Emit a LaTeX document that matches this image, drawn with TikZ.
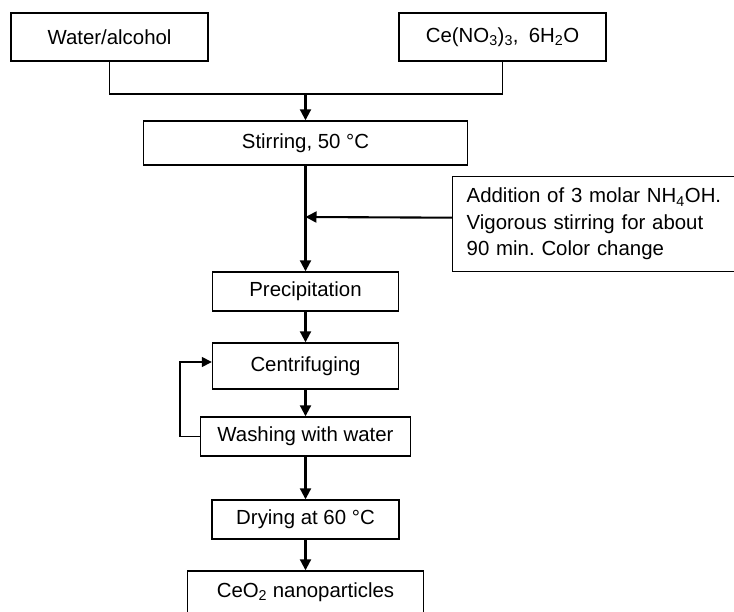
\documentclass[tikz,border=0pt]{standalone}
\usepackage{fontspec}
\setmainfont{Liberation Sans}
\usetikzlibrary{arrows.meta}

\tikzset{
  procbox/.style={draw=black, line width=1.4pt, inner sep=0pt, align=center,
    font=\fontsize{20.4}{26.5}\selectfont},
  feed/.style={draw=black, line width=1.4pt},
  flow/.style={draw=black, line width=2.1pt,
    -{Triangle[length=11pt,width=11pt]}},
  backflow/.style={draw=black, line width=1.5pt,
    -{Triangle[length=10pt,width=10pt]}},
}

\begin{document}
\frenchspacing
\begin{tikzpicture}[x=1pt,y=-1pt]
  \clip (0,0) rectangle (734,612);

  % starting materials
  \node[procbox, minimum width=197, minimum height=48] (water) at (109.5,37) {Water/alcohol};
  \node[procbox, minimum width=207, minimum height=48] (ce) at (502.5,37)
    {Ce(NO\textsubscript{3})\textsubscript{3},\enspace 6H\textsubscript{2}O};

  % main process column
  \node[procbox, minimum width=324, minimum height=44] (stir) at (305.5,143) {Stirring, 50 °C};
  \node[procbox, minimum width=186, minimum height=39] (prec) at (305.5,291.5) {Precipitation};
  \node[procbox, minimum width=186, minimum height=46] (cent) at (305.5,366) {Centrifuging};
  \node[procbox, minimum width=210, minimum height=39] (wash) at (305.5,436.5) {Washing with water};
  \node[procbox, minimum width=187, minimum height=39] (dry) at (305.5,519.5) {Drying at 60 °C};
  \node[procbox, minimum width=236, minimum height=43] (ceo) at (305.5,592.5) {CeO\textsubscript{2} nanoparticles};

  % side note on the reagent addition
  \node[procbox, anchor=north west, minimum width=300, minimum height=95,
        align=left, text width=272pt, inner xsep=14pt] (add) at (452,176)
    {Addition of 3 molar NH\textsubscript{4}OH.\\
     Vigorous stirring for about\\
     90 min. Color change};

  % joining points on the main line
  \coordinate (merge) at (305.5,94);
  \coordinate (join) at (305.5,217);

  % feeds merging into the stirring step
  \draw[feed] (water.south) -- (water.south |- merge) -| (ce.south);
  \draw[flow] (merge) -- (stir.north);

  % main flow
  \draw[flow] (stir.south) -- (prec.north);
  \draw[flow] ([yshift=6.5pt]add.west) -- (join);
  \draw[flow] (prec.south) -- (cent.north);
  \draw[flow] (cent.south) -- (wash.north);
  \draw[flow] (wash.south) -- (dry.north);
  \draw[flow] (dry.south) -- (ceo.north);

  % washing loop back to centrifuging
  \draw[backflow] (wash.west) -- ++(-20,0) |- ([yshift=4pt]cent.west);
\end{tikzpicture}
\end{document}
